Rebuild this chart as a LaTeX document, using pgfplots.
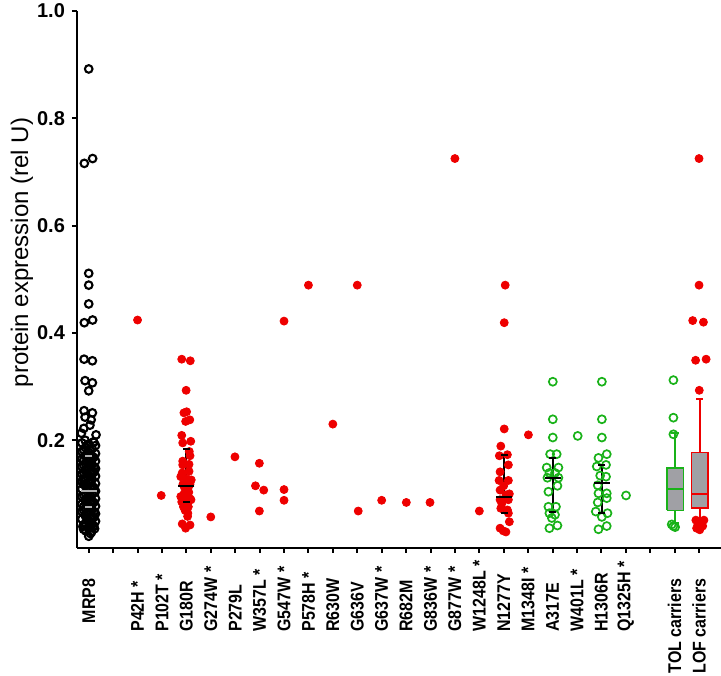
\documentclass[border=0pt]{standalone}
\usepackage{graphicx}
\usepackage{pgfplots}
\pgfplotsset{compat=1.18}
\usepackage{fontspec}
\setmainfont{Liberation Sans}
\definecolor{myred}{RGB}{238,0,0}
\definecolor{mygreen}{RGB}{25,178,25}
\definecolor{boxgray}{RGB}{160,160,165}
\definecolor{bargray}{RGB}{175,175,175}
\newcommand{\lab}[1]{\scalebox{1}[1.15]{\makebox[36pt][l]{#1}}}
\newcommand{\rab}[1]{\scalebox{1}[1.15]{\makebox[36pt][r]{#1\hspace{9.5pt}}}}
\begin{document}
\begin{tikzpicture}[x=1pt,y=1pt]
\path[use as bounding box] (-38.5,-63.75) rectangle (322,273.75);
\begin{axis}[
  at={(0,0)}, anchor=south west,
  scale only axis, width=322pt, height=268.25pt,
  xmin=-0.48, xmax=25.9, ymin=0, ymax=1,
  clip=false,
  axis lines=left, axis line style={-, line width=1pt},
  tick align=outside, major tick length=2.5pt,
  every tick/.style={black, line width=1pt},
  xtick={0,...,25},
  xticklabels={\rab{MRP8},{},\lab{P42H *},\lab{P102T *},\lab{G180R},\lab{G274W *},\lab{P279L},\lab{W357L *},\lab{G547W *},\lab{P578H *},\lab{R630W},\lab{G636V},\lab{G637W *},\lab{R682M},\lab{G836W *},\lab{G877W *},\lab{W1248L *},\lab{N1277Y},\lab{M1348I *},\lab{A317E},\lab{W401L *},\lab{H1306R},\lab{Q1325H *},{},\rab{TOL carriers},\rab{LOF carriers}},
  xticklabel style={rotate=90, anchor=east, font=\bfseries\fontsize{8}{9.6}\selectfont},
  ytick={0.2,0.4,0.6,0.8,1.0},
  yticklabel style={font=\bfseries\fontsize{10}{12}\selectfont, /pgf/number format/.cd, fixed, fixed zerofill, precision=1, assume math mode=true},
  ylabel={protein expression (rel U)},
  ylabel style={at={(axis description cs:-0.0854,0.55)}, anchor=center, font=\fontsize{12}{14}\selectfont},
]
% TOL carriers box plot
\addplot[draw=mygreen, fill=boxgray, line width=0.9pt] coordinates {(23.68,0.069) (24.36,0.069) (24.36,0.148) (23.68,0.148) (23.68,0.069)};
\addplot[draw=mygreen, line width=0.9pt] coordinates {(23.68,0.109) (24.36,0.109)};
\addplot[draw=mygreen, line width=0.9pt] coordinates {(24.02,0.148) (24.02,0.213)};
\addplot[draw=mygreen, line width=0.9pt] coordinates {(24.02,0.069) (24.02,0.045)};
\addplot[draw=mygreen, line width=0.9pt] coordinates {(23.87,0.213) (24.17,0.213)};
\addplot[draw=mygreen, line width=0.9pt] coordinates {(23.87,0.045) (24.17,0.045)};
% LOF carriers box plot
\addplot[draw=myred, fill=boxgray, line width=0.9pt] coordinates {(24.69,0.073) (25.37,0.073) (25.37,0.177) (24.69,0.177) (24.69,0.073)};
\addplot[draw=myred, line width=0.9pt] coordinates {(24.69,0.099) (25.37,0.099)};
\addplot[draw=myred, line width=0.9pt] coordinates {(25.03,0.177) (25.03,0.277)};
\addplot[draw=myred, line width=0.9pt] coordinates {(25.03,0.073) (25.03,0.054)};
\addplot[draw=myred, line width=0.9pt] coordinates {(24.88,0.277) (25.18,0.277)};
\addplot[draw=myred, line width=0.9pt] coordinates {(24.88,0.054) (25.18,0.054)};
% MRP8 black open circles
\addplot[only marks, mark=o, mark size=1.9pt, black, line width=1.05pt] coordinates {
(0.0,0.892) (-0.18,0.716) (0.16,0.725) (0,0.511) (0,0.489) (0,0.454) (-0.18,0.419) (0.16,0.424)
(-0.19,0.351) (0.15,0.348) (-0.15,0.311) (0.15,0.307) (0,0.292) (-0.19,0.255) (0.15,0.251)
(-0.15,0.243) (0.1,0.238) (-0.2,0.222) (0.05,0.228) (-0.3,0.213) (0.3,0.210) (-0.15,0.200) (0.2,0.197)
(-0.28,0.195) (0.0,0.193) (0.28,0.190) (-0.14,0.186) (0.14,0.184)
(-0.28,0.179) (0.0,0.177) (0.28,0.175) (-0.14,0.171) (0.14,0.169)
(-0.28,0.165) (0.0,0.163) (0.28,0.161) (-0.14,0.157) (0.14,0.155)
(-0.28,0.151) (0.0,0.149) (0.28,0.147) (-0.14,0.143) (0.14,0.141)
(-0.28,0.137) (0.0,0.135) (0.28,0.133) (-0.14,0.129) (0.14,0.127)
(-0.28,0.123) (0.0,0.121) (0.28,0.119) (-0.14,0.115) (0.14,0.113)
(-0.28,0.109) (0.0,0.107) (0.28,0.105) (-0.14,0.101) (0.14,0.099)
(-0.28,0.095) (0.0,0.093) (0.28,0.091) (-0.14,0.087) (0.14,0.085)
(-0.28,0.081) (0.0,0.079) (0.28,0.077) (-0.14,0.073) (0.14,0.071)
(-0.28,0.067) (0.0,0.065) (0.28,0.063) (-0.14,0.059) (0.14,0.057)
(-0.28,0.053) (0.0,0.051) (0.28,0.049) (-0.14,0.045) (0.14,0.043)
(-0.24,0.039) (0.0,0.037) (0.24,0.035) (-0.12,0.031) (0.12,0.029) (0.0,0.021)
(-0.21,0.182) (0.07,0.180) (0.21,0.168) (-0.07,0.166) (-0.21,0.154) (0.07,0.152)
(0.21,0.140) (-0.07,0.138) (-0.21,0.126) (0.07,0.124) (0.21,0.112) (-0.07,0.110)
(-0.21,0.098) (0.07,0.096) (0.21,0.084) (-0.07,0.082) (-0.21,0.070) (0.07,0.068)
(0.21,0.056) (-0.07,0.054) (-0.21,0.042) (0.07,0.040) (0.21,0.110) (-0.21,0.140)
(0.21,0.196) (-0.07,0.190) (0.07,0.172) (-0.21,0.162) (0.21,0.150) (-0.07,0.146)
(0.07,0.132) (-0.21,0.118) (0.21,0.102) (-0.07,0.092) (0.07,0.086) (-0.21,0.076)
(0.21,0.066) (-0.07,0.062) (0.07,0.048) (-0.21,0.034) (0.21,0.040) (0.07,0.026)
};
% red filled dots (LOF variants)
\addplot[only marks, mark=*, mark size=2pt, myred, mark options={draw=myred, fill=myred}] coordinates {
(2.0,0.424) (2.97,0.097)
(3.81,0.351) (4.16,0.348) (3.99,0.293) (3.90,0.251) (4.01,0.253) (3.97,0.235) (4.14,0.238)
(3.81,0.209) (3.85,0.195) (4.18,0.198) (4.12,0.179) (3.85,0.161) (4.15,0.171) (3.85,0.154)
(4.11,0.155) (4.11,0.142) (3.83,0.139) (3.77,0.132) (4.20,0.126) (4.01,0.128) (3.92,0.112)
(4.08,0.112) (3.77,0.095) (3.97,0.093) (4.15,0.091) (3.81,0.085) (4.01,0.082) (4.19,0.089)
(3.88,0.076) (4.08,0.076) (3.95,0.069) (4.06,0.064) (3.90,0.100) (4.10,0.103) (4.0,0.072)
(3.86,0.118) (4.15,0.118) (4.05,0.058) (3.83,0.044) (4.15,0.042) (3.97,0.036)
(5.0,0.057) (5.99,0.169)
(6.99,0.157) (6.83,0.115) (7.17,0.107) (6.99,0.068)
(8.0,0.422) (8.0,0.108) (8.0,0.088)
(9.0,0.489) (10.0,0.230) (11.0,0.489) (11.04,0.068)
(12.0,0.088) (13.01,0.084) (13.98,0.084) (15.0,0.725) (16.0,0.068)
(17.06,0.489) (17.02,0.419) (17.02,0.221) (16.88,0.189) (16.82,0.171) (17.15,0.173)
(17.19,0.154) (16.85,0.141) (16.81,0.125) (17.19,0.125) (16.85,0.107) (17.23,0.100)
(17.09,0.098) (16.85,0.089) (17.19,0.089) (16.88,0.073) (17.15,0.070) (17.19,0.064)
(17.23,0.048) (16.85,0.036) (16.98,0.031) (17.09,0.029) (17.0,0.115) (16.92,0.082)
(18.01,0.210)
(25.0,0.725) (25.0,0.489) (24.74,0.423) (25.18,0.420) (24.86,0.349) (25.29,0.351) (25.01,0.293)
(24.87,0.051) (25.2,0.051) (24.95,0.042) (25.15,0.040) (25.03,0.033) (24.9,0.036) (25.1,0.046)
};
% green open circles (TOL variants)
\addplot[only marks, mark=o, mark size=2pt, mygreen, line width=0.85pt] coordinates {
(19.01,0.309) (19.01,0.239) (19.01,0.205) (18.90,0.174) (19.17,0.174) (18.76,0.149) (19.24,0.149)
(18.87,0.139) (19.10,0.139) (18.79,0.130) (19.24,0.130) (19.20,0.115) (18.83,0.104)
(18.83,0.076) (19.14,0.076) (18.87,0.064) (19.10,0.061) (18.97,0.055) (18.87,0.036) (19.20,0.041)
(20.03,0.208)
(21.02,0.309) (21.02,0.239) (21.02,0.205) (20.88,0.167) (21.22,0.174) (20.81,0.151) (21.19,0.154)
(20.95,0.134) (21.19,0.132) (20.85,0.116) (21.22,0.101) (20.88,0.101) (20.85,0.084) (21.22,0.092)
(20.77,0.067) (21.25,0.064) (21.02,0.057) (20.88,0.034) (21.22,0.040)
(22.01,0.097)
(23.95,0.312) (23.95,0.242) (23.95,0.211) (23.88,0.043) (24.02,0.038) (23.95,0.040)
};
% MRP8 mean and range (grey)
\addplot[bargray, line width=1pt] coordinates {(0,0.076) (0,0.170)};
\addplot[only marks, mark=-, mark size=4pt, bargray, line width=1pt] coordinates {(0,0.106)};
\addplot[only marks, mark=-, mark size=1.75pt, bargray, line width=1pt] coordinates {(0,0.076) (0,0.170)};
% mean and range (black)
\addplot[black, line width=1pt] coordinates {(4.0,0.085) (4.0,0.184)};
\addplot[black, line width=1pt] coordinates {(17.02,0.065) (17.02,0.172)};
\addplot[black, line width=1pt] coordinates {(19.01,0.067) (19.01,0.167)};
\addplot[black, line width=1pt] coordinates {(21.02,0.065) (21.02,0.154)};
\addplot[only marks, mark=-, mark size=4pt, black, line width=1pt] coordinates {(4.0,0.115) (17.02,0.094) (19.01,0.130) (21.02,0.121)};
\addplot[only marks, mark=-, mark size=1.75pt, black, line width=1pt] coordinates {
(4.0,0.085) (4.0,0.184) (17.02,0.065) (17.02,0.172) (19.01,0.067) (19.01,0.167) (21.02,0.065) (21.02,0.154)};
\end{axis}
\end{tikzpicture}
\end{document}
